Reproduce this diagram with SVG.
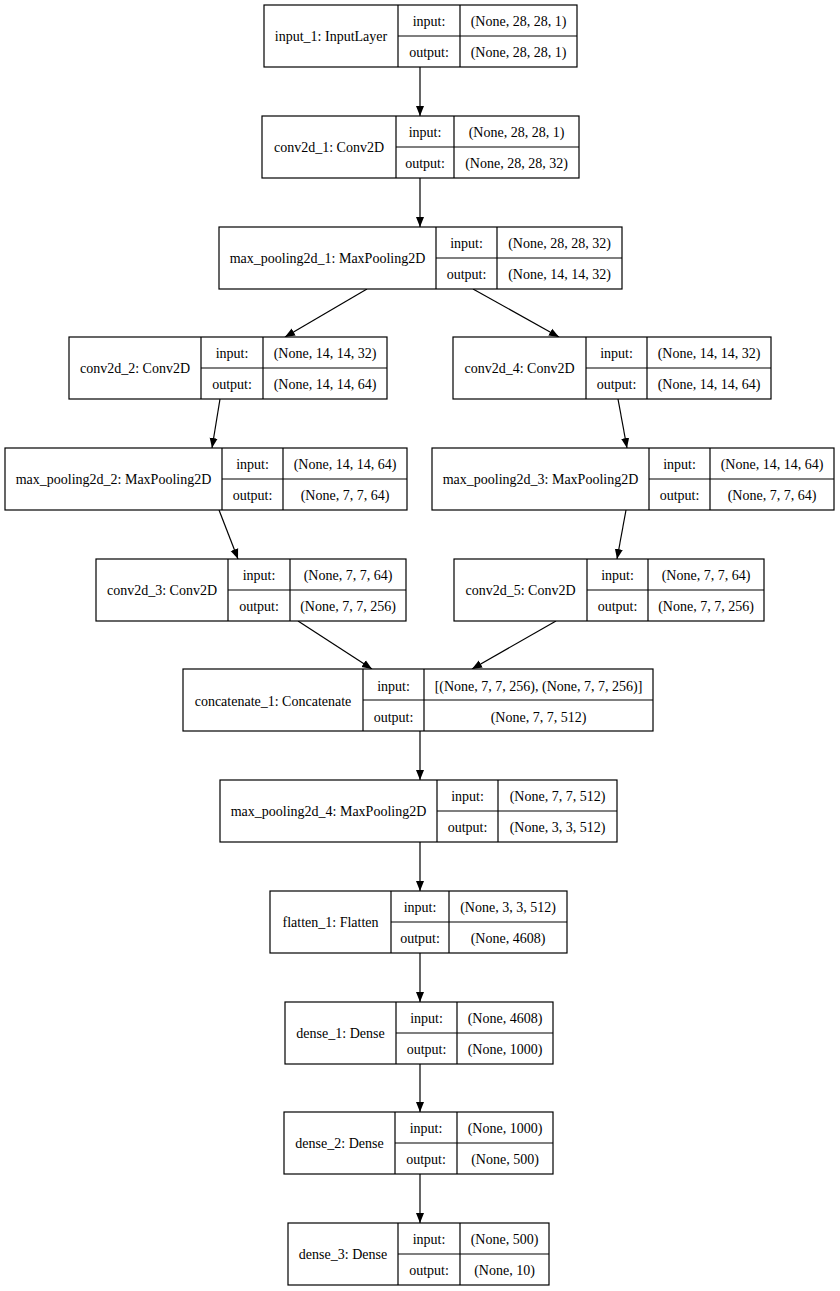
<svg xmlns="http://www.w3.org/2000/svg" width="840" height="1291" viewBox="0 0 840 1291">
<style>
.b{fill:#fff;stroke:#000;stroke-width:1.2}
.l{stroke:#000;stroke-width:1.2;fill:none}
text{font-family:"Liberation Serif","Times New Roman",serif;font-size:14px;fill:#000;text-anchor:middle}
.e{stroke:#000;stroke-width:1.2;fill:none;marker-end:url(#ah)}
</style>
<defs>
<marker id="ah" markerUnits="userSpaceOnUse" markerWidth="11" markerHeight="10" refX="10" refY="5" orient="auto">
<path d="M0,1 L10,5 L0,9 Z" fill="#000"/>
</marker>
</defs>
<rect width="840" height="1291" fill="#fff"/>
<g id="connectors">
<line class="e" x1="420" y1="67" x2="420" y2="116"/>
<line class="e" x1="420" y1="178" x2="420" y2="227"/>
<line class="e" x1="367" y1="289" x2="285" y2="337"/>
<line class="e" x1="473" y1="289" x2="559" y2="337"/>
<line class="e" x1="220" y1="399" x2="212" y2="448"/>
<line class="e" x1="618" y1="399" x2="627" y2="448"/>
<line class="e" x1="219" y1="510" x2="238" y2="559"/>
<line class="e" x1="626" y1="510" x2="617" y2="559"/>
<line class="e" x1="298" y1="621" x2="372" y2="669"/>
<line class="e" x1="556" y1="621" x2="472" y2="669"/>
<line class="e" x1="420" y1="731" x2="420" y2="780"/>
<line class="e" x1="420" y1="842" x2="420" y2="891"/>
<line class="e" x1="420" y1="953" x2="420" y2="1002"/>
<line class="e" x1="420" y1="1064" x2="420" y2="1112"/>
<line class="e" x1="420" y1="1174" x2="420" y2="1223"/>
</g>
<g id="input_1">
<rect class="b" x="264" y="5" width="313" height="62"/>
<path class="l" d="M398,5V67M460,5V67M398,36H577"/>
<text x="331" y="41">input_1: InputLayer</text>
<text x="429" y="25.5">input:</text><text x="429" y="56.5">output:</text>
<text x="518.5" y="25.5">(None, 28, 28, 1)</text><text x="518.5" y="56.5">(None, 28, 28, 1)</text>
</g>
<g id="conv2d_1">
<rect class="b" x="262" y="116" width="317" height="62"/>
<path class="l" d="M396,116V178M454,116V178M396,147H579"/>
<text x="329" y="152">conv2d_1: Conv2D</text>
<text x="425" y="136.5">input:</text><text x="425" y="167.5">output:</text>
<text x="516.5" y="136.5">(None, 28, 28, 1)</text><text x="516.5" y="167.5">(None, 28, 28, 32)</text>
</g>
<g id="max_pooling2d_1">
<rect class="b" x="219" y="227" width="403" height="62"/>
<path class="l" d="M436,227V289M497,227V289M436,258H622"/>
<text x="327.5" y="263">max_pooling2d_1: MaxPooling2D</text>
<text x="466.5" y="247.5">input:</text><text x="466.5" y="278.5">output:</text>
<text x="559.5" y="247.5">(None, 28, 28, 32)</text><text x="559.5" y="278.5">(None, 14, 14, 32)</text>
</g>
<g id="conv2d_2">
<rect class="b" x="69" y="337" width="318" height="62"/>
<path class="l" d="M201,337V399M263,337V399M201,368H387"/>
<text x="135" y="373">conv2d_2: Conv2D</text>
<text x="232" y="357.5">input:</text><text x="232" y="388.5">output:</text>
<text x="325" y="357.5">(None, 14, 14, 32)</text><text x="325" y="388.5">(None, 14, 14, 64)</text>
</g>
<g id="conv2d_4">
<rect class="b" x="453" y="337" width="318" height="62"/>
<path class="l" d="M586,337V399M647,337V399M586,368H771"/>
<text x="519.5" y="373">conv2d_4: Conv2D</text>
<text x="616.5" y="357.5">input:</text><text x="616.5" y="388.5">output:</text>
<text x="709" y="357.5">(None, 14, 14, 32)</text><text x="709" y="388.5">(None, 14, 14, 64)</text>
</g>
<g id="max_pooling2d_2">
<rect class="b" x="5" y="448" width="402" height="62"/>
<path class="l" d="M222,448V510M283,448V510M222,479H407"/>
<text x="113.5" y="484">max_pooling2d_2: MaxPooling2D</text>
<text x="252.5" y="468.5">input:</text><text x="252.5" y="499.5">output:</text>
<text x="345" y="468.5">(None, 14, 14, 64)</text><text x="345" y="499.5">(None, 7, 7, 64)</text>
</g>
<g id="max_pooling2d_3">
<rect class="b" x="432" y="448" width="402" height="62"/>
<path class="l" d="M649,448V510M710,448V510M649,479H834"/>
<text x="540.5" y="484">max_pooling2d_3: MaxPooling2D</text>
<text x="679.5" y="468.5">input:</text><text x="679.5" y="499.5">output:</text>
<text x="772" y="468.5">(None, 14, 14, 64)</text><text x="772" y="499.5">(None, 7, 7, 64)</text>
</g>
<g id="conv2d_3">
<rect class="b" x="96" y="559" width="310" height="62"/>
<path class="l" d="M228,559V621M290,559V621M228,590H406"/>
<text x="162" y="595">conv2d_3: Conv2D</text>
<text x="259" y="579.5">input:</text><text x="259" y="610.5">output:</text>
<text x="348" y="579.5">(None, 7, 7, 64)</text><text x="348" y="610.5">(None, 7, 7, 256)</text>
</g>
<g id="conv2d_5">
<rect class="b" x="454" y="559" width="310" height="62"/>
<path class="l" d="M587,559V621M648,559V621M587,590H764"/>
<text x="520.5" y="595">conv2d_5: Conv2D</text>
<text x="617.5" y="579.5">input:</text><text x="617.5" y="610.5">output:</text>
<text x="706" y="579.5">(None, 7, 7, 64)</text><text x="706" y="610.5">(None, 7, 7, 256)</text>
</g>
<g id="concatenate_1">
<rect class="b" x="183" y="669" width="470" height="62"/>
<path class="l" d="M363,669V731M424,669V731M363,700H653"/>
<text x="273" y="706">concatenate_1: Concatenate</text>
<text x="393.5" y="690.5">input:</text><text x="393.5" y="721.5">output:</text>
<text x="538.5" y="690.5">[(None, 7, 7, 256), (None, 7, 7, 256)]</text><text x="538.5" y="721.5">(None, 7, 7, 512)</text>
</g>
<g id="max_pooling2d_4">
<rect class="b" x="220" y="780" width="397" height="62"/>
<path class="l" d="M437,780V842M498,780V842M437,811H617"/>
<text x="328.5" y="816">max_pooling2d_4: MaxPooling2D</text>
<text x="467.5" y="800.5">input:</text><text x="467.5" y="831.5">output:</text>
<text x="557.5" y="800.5">(None, 7, 7, 512)</text><text x="557.5" y="831.5">(None, 3, 3, 512)</text>
</g>
<g id="flatten_1">
<rect class="b" x="270" y="891" width="297" height="62"/>
<path class="l" d="M391,891V953M449,891V953M391,922H567"/>
<text x="330.5" y="927">flatten_1: Flatten</text>
<text x="420" y="911.5">input:</text><text x="420" y="942.5">output:</text>
<text x="508" y="911.5">(None, 3, 3, 512)</text><text x="508" y="942.5">(None, 4608)</text>
</g>
<g id="dense_1">
<rect class="b" x="285" y="1002" width="268" height="62"/>
<path class="l" d="M396,1002V1064M457,1002V1064M396,1033H553"/>
<text x="340.5" y="1038">dense_1: Dense</text>
<text x="426.5" y="1022.5">input:</text><text x="426.5" y="1053.5">output:</text>
<text x="505" y="1022.5">(None, 4608)</text><text x="505" y="1053.5">(None, 1000)</text>
</g>
<g id="dense_2">
<rect class="b" x="284" y="1112" width="269" height="62"/>
<path class="l" d="M395,1112V1174M457,1112V1174M395,1143H553"/>
<text x="339.5" y="1148">dense_2: Dense</text>
<text x="426" y="1132.5">input:</text><text x="426" y="1163.5">output:</text>
<text x="505" y="1132.5">(None, 1000)</text><text x="505" y="1163.5">(None, 500)</text>
</g>
<g id="dense_3">
<rect class="b" x="288" y="1223" width="261" height="62"/>
<path class="l" d="M398,1223V1285M460,1223V1285M398,1254H549"/>
<text x="343" y="1259">dense_3: Dense</text>
<text x="429" y="1243.5">input:</text><text x="429" y="1274.5">output:</text>
<text x="504.5" y="1243.5">(None, 500)</text><text x="504.5" y="1274.5">(None, 10)</text>
</g>
</svg>
